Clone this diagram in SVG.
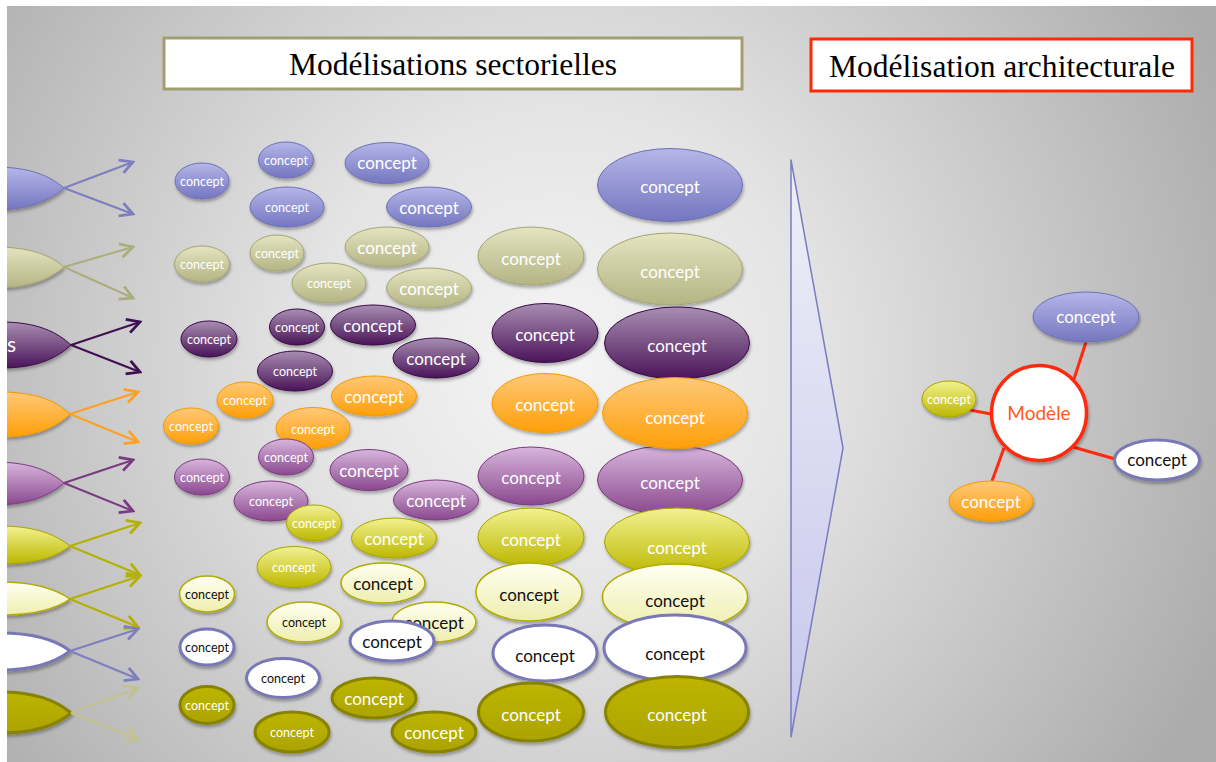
<svg xmlns="http://www.w3.org/2000/svg" width="1216" height="762" viewBox="0 0 1216 762">
<defs>
<radialGradient id="bg" gradientUnits="userSpaceOnUse" cx="560" cy="360" r="720">
<stop offset="0" stop-color="#f5f5f5"/><stop offset="0.35" stop-color="#e4e4e4"/><stop offset="0.7" stop-color="#c6c6c6"/><stop offset="1" stop-color="#acacac"/>
</radialGradient>
<linearGradient id="gBlue" x1="0" y1="0" x2="0" y2="1"><stop offset="0" stop-color="#b5b6e8"/><stop offset="1" stop-color="#7476c0"/></linearGradient>
<linearGradient id="gKhaki" x1="0" y1="0" x2="0" y2="1"><stop offset="0" stop-color="#e4e4c0"/><stop offset="1" stop-color="#b4b484"/></linearGradient>
<linearGradient id="gDp" x1="0" y1="0" x2="0" y2="1"><stop offset="0" stop-color="#a88eb2"/><stop offset="1" stop-color="#4a1458"/></linearGradient>
<linearGradient id="gOr" x1="0" y1="0" x2="0" y2="1"><stop offset="0" stop-color="#ffc878"/><stop offset="1" stop-color="#ff9f08"/></linearGradient>
<linearGradient id="gMv" x1="0" y1="0" x2="0" y2="1"><stop offset="0" stop-color="#d8b6dc"/><stop offset="1" stop-color="#8a488e"/></linearGradient>
<linearGradient id="gYe" x1="0" y1="0" x2="0" y2="1"><stop offset="0" stop-color="#f2f290"/><stop offset="1" stop-color="#bcb700"/></linearGradient>
<linearGradient id="gPa" x1="0" y1="0" x2="0" y2="1"><stop offset="0" stop-color="#fffff2"/><stop offset="1" stop-color="#eeeeae"/></linearGradient>
<linearGradient id="gOl" x1="0" y1="0" x2="0" y2="1"><stop offset="0" stop-color="#bdb500"/><stop offset="1" stop-color="#aca400"/></linearGradient>
<linearGradient id="gArrow" x1="0" y1="0" x2="0" y2="1"><stop offset="0" stop-color="#efeff8"/><stop offset="1" stop-color="#c6c6ec"/></linearGradient>
<filter id="sh" x="-20%" y="-20%" width="140%" height="150%"><feDropShadow dx="1" dy="2.5" stdDeviation="1.5" flood-color="#000" flood-opacity="0.3"/></filter>
<marker id="mBlue" markerUnits="userSpaceOnUse" markerWidth="17" markerHeight="17" viewBox="0 0 16 16" refX="14" refY="8" orient="auto"><path d="M2,1.5 L14,8 L2,14.5" fill="none" stroke="#7d7ec0" stroke-width="2.6"/></marker>
<marker id="mKhaki" markerUnits="userSpaceOnUse" markerWidth="17" markerHeight="17" viewBox="0 0 16 16" refX="14" refY="8" orient="auto"><path d="M2,1.5 L14,8 L2,14.5" fill="none" stroke="#acac7c" stroke-width="2.6"/></marker>
<marker id="mDp" markerUnits="userSpaceOnUse" markerWidth="17" markerHeight="17" viewBox="0 0 16 16" refX="14" refY="8" orient="auto"><path d="M2,1.5 L14,8 L2,14.5" fill="none" stroke="#3f1050" stroke-width="2.6"/></marker>
<marker id="mOr" markerUnits="userSpaceOnUse" markerWidth="17" markerHeight="17" viewBox="0 0 16 16" refX="14" refY="8" orient="auto"><path d="M2,1.5 L14,8 L2,14.5" fill="none" stroke="#ffa020" stroke-width="2.6"/></marker>
<marker id="mMv" markerUnits="userSpaceOnUse" markerWidth="17" markerHeight="17" viewBox="0 0 16 16" refX="14" refY="8" orient="auto"><path d="M2,1.5 L14,8 L2,14.5" fill="none" stroke="#7a3a80" stroke-width="2.6"/></marker>
<marker id="mYe" markerUnits="userSpaceOnUse" markerWidth="17" markerHeight="17" viewBox="0 0 16 16" refX="14" refY="8" orient="auto"><path d="M2,1.5 L14,8 L2,14.5" fill="none" stroke="#b4b000" stroke-width="2.6"/></marker>
<marker id="mFt" markerUnits="userSpaceOnUse" markerWidth="17" markerHeight="17" viewBox="0 0 16 16" refX="14" refY="8" orient="auto"><path d="M2,1.5 L14,8 L2,14.5" fill="none" stroke="#c4c28c" stroke-width="2.6"/></marker>
<style>
text{font-family:Lato,"Open Sans","Noto Sans",sans-serif;text-anchor:middle}
.ts{font-size:12.5px}
.tl{font-size:17px}
.w{fill:#ffffff}
.k{fill:#111111}
.title{font-family:"Liberation Serif","Times New Roman",serif;font-size:31px;fill:#000}
ellipse,.leaf{filter:url(#sh)}
.blue{fill:url(#gBlue);stroke:#6f71b5;stroke-width:1}
.khaki{fill:url(#gKhaki);stroke:#a4a476;stroke-width:1}
.dp{fill:url(#gDp);stroke:#3a0a48;stroke-width:1}
.or{fill:url(#gOr);stroke:#f29a00;stroke-width:1}
.mv{fill:url(#gMv);stroke:#7a3a80;stroke-width:1}
.ye{fill:url(#gYe);stroke:#a8a300;stroke-width:1}
.pa{fill:url(#gPa);stroke:#b0ac00;stroke-width:1.5}
.wh{fill:#ffffff;stroke:#7878b6;stroke-width:3}
.ol{fill:url(#gOl);stroke:#878200;stroke-width:3}
.ln{fill:none;stroke-width:2}
.red{stroke:#ff2a10;stroke-width:3;fill:none}
</style>
</defs>

<rect x="0" y="0" width="1216" height="762" fill="url(#bg)"/>

<!-- titles -->
<g id="title-sectorielles">
<rect x="164" y="38" width="578" height="51" fill="#ffffff" stroke="#a39d72" stroke-width="3"/>
<text class="title" x="453" y="75" textLength="328" lengthAdjust="spacingAndGlyphs">Modélisations sectorielles</text>
</g>
<g id="title-architecturale">
<rect x="811" y="39" width="381" height="52" fill="#ffffff" stroke="#ff2a00" stroke-width="3"/>
<text class="title" x="1002" y="77" textLength="346" lengthAdjust="spacingAndGlyphs">Modélisation architecturale</text>
</g>

<!-- left sources (leaf shapes) -->
<g id="src1"><path class="leaf blue" d="M64,188 C50,176 30,167 -6,167 L-26,167 L-26,210 L-6,210 C30,210 50,200 64,188 Z"/></g>
<g id="src2"><path class="leaf khaki" d="M64,267 C50,255 30,247 -6,247 L-26,247 L-26,288 L-6,288 C30,288 50,279 64,267 Z"/></g>
<g id="src3"><path class="leaf dp" d="M71,345 C57,332 37,322 1,322 L-19,322 L-19,368 L1,368 C37,368 57,358 71,345 Z"/><text class="w" x="16" y="352" style="font-size:21px;text-anchor:end">s</text></g>
<g id="src4"><path class="leaf or" d="M70,414 C56,401 36,392 0,392 L-20,392 L-20,437 L0,437 C36,437 56,427 70,414 Z"/></g>
<g id="src5"><path class="leaf mv" d="M64,483 C50,471 30,462 -6,462 L-26,462 L-26,505 L-6,505 C30,505 50,495 64,483 Z"/></g>
<g id="src6"><path class="leaf ye" d="M70,546 C56,535 36,526 0,526 L-20,526 L-20,564 L0,564 C36,564 56,557 70,546 Z"/></g>
<g id="src7"><path class="leaf pa" d="M70,599 C56,589 36,582 0,582 L-20,582 L-20,615 L0,615 C36,615 56,609 70,599 Z"/></g>
<g id="src8"><path class="leaf wh" d="M70,651 C56,640 36,633 0,633 L-20,633 L-20,670 L0,670 C36,670 56,662 70,651 Z"/></g>
<g id="src9"><path class="leaf ol" d="M71,713 C57,701 37,692 1,692 L-19,692 L-19,733 L1,733 C37,733 57,725 71,713 Z"/></g>

<!-- connectors -->
<g id="connectors">
<g class="ln" stroke="#7d7ec0"><line x1="64" y1="188" x2="133" y2="162" marker-end="url(#mBlue)"/><line x1="64" y1="188" x2="133" y2="214" marker-end="url(#mBlue)"/></g>
<g class="ln" stroke="#acac7c"><line x1="64" y1="267" x2="133" y2="247" marker-end="url(#mKhaki)"/><line x1="64" y1="267" x2="133" y2="298" marker-end="url(#mKhaki)"/></g>
<g class="ln" stroke="#3f1050"><line x1="71" y1="345" x2="140" y2="322" marker-end="url(#mDp)"/><line x1="71" y1="345" x2="140" y2="372" marker-end="url(#mDp)"/></g>
<g class="ln" stroke="#ffa020"><line x1="70" y1="414" x2="138" y2="392" marker-end="url(#mOr)"/><line x1="70" y1="414" x2="138" y2="442" marker-end="url(#mOr)"/></g>
<g class="ln" stroke="#7a3a80"><line x1="64" y1="483" x2="133" y2="460" marker-end="url(#mMv)"/><line x1="64" y1="483" x2="133" y2="511" marker-end="url(#mMv)"/></g>
<g class="ln" stroke="#b4b000"><line x1="70" y1="546" x2="140" y2="523" marker-end="url(#mYe)"/><line x1="70" y1="546" x2="140" y2="575" marker-end="url(#mYe)"/></g>
<g class="ln" stroke="#b4b000"><line x1="70" y1="599" x2="140" y2="576" marker-end="url(#mYe)"/><line x1="70" y1="599" x2="138" y2="627" marker-end="url(#mYe)"/></g>
<g class="ln" stroke="#7d7ec0"><line x1="70" y1="651" x2="138" y2="629" marker-end="url(#mBlue)"/><line x1="70" y1="651" x2="138" y2="679" marker-end="url(#mBlue)"/></g>
<g class="ln" stroke="#c4c28c"><line x1="71" y1="713" x2="138" y2="688" marker-end="url(#mFt)"/><line x1="71" y1="713" x2="138" y2="739" marker-end="url(#mFt)"/></g>
<g id="model-links" class="red">
<line x1="1073" y1="382" x2="1086" y2="342"/>
<line x1="991" y1="414" x2="970" y2="410"/>
<line x1="1073" y1="447" x2="1115" y2="459"/>
<line x1="1004" y1="448" x2="992" y2="481"/>
</g>
</g>

<!-- blue row -->
<g id="b1"><ellipse class="blue" cx="202" cy="181" rx="27" ry="18"/><text class="ts w" x="202" y="186">concept</text></g>
<g id="b2"><ellipse class="blue" cx="286" cy="160" rx="27.5" ry="18"/><text class="ts w" x="286" y="165">concept</text></g>
<g id="b3"><ellipse class="blue" cx="387" cy="163" rx="42" ry="20.5"/><text class="tl w" x="387" y="169">concept</text></g>
<g id="b4"><ellipse class="blue" cx="287" cy="207" rx="37" ry="20"/><text class="ts w" x="287" y="212">concept</text></g>
<g id="b5"><ellipse class="blue" cx="429" cy="207" rx="42.5" ry="20"/><text class="tl w" x="429" y="214">concept</text></g>
<g id="b6"><ellipse class="blue" cx="670" cy="185" rx="72.5" ry="36.5"/><text class="tl w" x="670" y="193">concept</text></g>

<!-- khaki row -->
<g id="k1"><ellipse class="khaki" cx="202" cy="264" rx="27.5" ry="18"/><text class="ts w" x="202" y="269">concept</text></g>
<g id="k2"><ellipse class="khaki" cx="277" cy="253" rx="27" ry="18"/><text class="ts w" x="277" y="258">concept</text></g>
<g id="k3"><ellipse class="khaki" cx="387" cy="247" rx="42" ry="20"/><text class="tl w" x="387" y="254">concept</text></g>
<g id="k4"><ellipse class="khaki" cx="329" cy="283" rx="37" ry="20"/><text class="ts w" x="329" y="288">concept</text></g>
<g id="k5"><ellipse class="khaki" cx="429" cy="288" rx="42.5" ry="20"/><text class="tl w" x="429" y="295">concept</text></g>
<g id="k6"><ellipse class="khaki" cx="531" cy="256" rx="53" ry="29"/><text class="tl w" x="531" y="265">concept</text></g>
<g id="k7"><ellipse class="khaki" cx="670" cy="269" rx="72.5" ry="36"/><text class="tl w" x="670" y="278">concept</text></g>

<!-- dark purple row -->
<g id="d1"><ellipse class="dp" cx="209" cy="339" rx="28" ry="18"/><text class="ts w" x="209" y="344">concept</text></g>
<g id="d2"><ellipse class="dp" cx="297" cy="327" rx="27.5" ry="18"/><text class="ts w" x="297" y="332">concept</text></g>
<g id="d3"><ellipse class="dp" cx="373" cy="325" rx="42.5" ry="20"/><text class="tl w" x="373" y="332">concept</text></g>
<g id="d4"><ellipse class="dp" cx="295" cy="371" rx="37.5" ry="20"/><text class="ts w" x="295" y="376">concept</text></g>
<g id="d5"><ellipse class="dp" cx="436" cy="358" rx="43" ry="20"/><text class="tl w" x="436" y="365">concept</text></g>
<g id="d6"><ellipse class="dp" cx="545" cy="333" rx="53" ry="29.5"/><text class="tl w" x="545" y="341">concept</text></g>
<g id="d7"><ellipse class="dp" cx="677" cy="343" rx="72.5" ry="36"/><text class="tl w" x="677" y="352">concept</text></g>

<!-- orange row -->
<g id="o1"><ellipse class="or" cx="245" cy="400" rx="28" ry="18"/><text class="ts w" x="245" y="405">concept</text></g>
<g id="o2"><ellipse class="or" cx="374" cy="396" rx="42.5" ry="20"/><text class="tl w" x="374" y="403">concept</text></g>
<g id="o3"><ellipse class="or" cx="191" cy="426" rx="27.5" ry="18"/><text class="ts w" x="191" y="431">concept</text></g>
<g id="o4"><ellipse class="or" cx="313" cy="428" rx="37" ry="20.5"/><text class="ts w" x="313" y="434">concept</text></g>
<g id="o5"><ellipse class="or" cx="545" cy="403" rx="53" ry="29.5"/><text class="tl w" x="545" y="411">concept</text></g>

<!-- mauve row -->
<g id="m1"><ellipse class="mv" cx="286" cy="457" rx="27.5" ry="18"/><text class="ts w" x="286" y="462">concept</text></g>
<g id="m2"><ellipse class="mv" cx="369" cy="470" rx="39" ry="20.5"/><text class="tl w" x="369" y="477">concept</text></g>
<g id="m3"><ellipse class="mv" cx="202" cy="477" rx="27.5" ry="18"/><text class="ts w" x="202" y="482">concept</text></g>
<g id="m4"><ellipse class="mv" cx="271" cy="501" rx="37" ry="20"/><text class="ts w" x="271" y="506">concept</text></g>
<g id="m5"><ellipse class="mv" cx="436" cy="500" rx="42.5" ry="20"/><text class="tl w" x="436" y="507">concept</text></g>
<g id="m6"><ellipse class="mv" cx="531" cy="476" rx="53" ry="29"/><text class="tl w" x="531" y="484">concept</text></g>
<g id="m7"><ellipse class="mv" cx="670" cy="480" rx="72.5" ry="34.5"/><text class="tl w" x="670" y="489">concept</text></g>
<g id="o6"><ellipse class="or" cx="675" cy="413" rx="72.5" ry="35.5"/><text class="tl w" x="675" y="424">concept</text></g>

<!-- yellow row -->
<g id="y1"><ellipse class="ye" cx="314" cy="523" rx="27.5" ry="18"/><text class="ts w" x="314" y="528">concept</text></g>
<g id="y2"><ellipse class="ye" cx="394" cy="538" rx="42.5" ry="20"/><text class="tl w" x="394" y="545">concept</text></g>
<g id="y3"><ellipse class="ye" cx="294" cy="567" rx="37" ry="20.5"/><text class="ts w" x="294" y="572">concept</text></g>
<g id="y4"><ellipse class="ye" cx="531" cy="537" rx="53" ry="29"/><text class="tl w" x="531" y="546">concept</text></g>
<g id="y5"><ellipse class="ye" cx="677" cy="542" rx="72.5" ry="34"/><text class="tl w" x="677" y="554">concept</text></g>

<!-- pale yellow row -->
<g id="p1"><ellipse class="pa" cx="207" cy="594" rx="27.5" ry="18"/><text class="ts k" x="207" y="599">concept</text></g>
<g id="p2"><ellipse class="pa" cx="383" cy="583" rx="42" ry="20"/><text class="tl k" x="383" y="590">concept</text></g>
<g id="p3"><ellipse class="pa" cx="304" cy="622" rx="37" ry="20"/><text class="ts k" x="304" y="627">concept</text></g>
<g id="p4"><ellipse class="pa" cx="434" cy="622" rx="42" ry="20"/><text class="tl k" x="434" y="629">concept</text></g>
<g id="p5"><ellipse class="pa" cx="529" cy="592" rx="53" ry="29"/><text class="tl k" x="529" y="601">concept</text></g>
<g id="p6"><ellipse class="pa" cx="675" cy="597" rx="72.5" ry="33"/><text class="tl k" x="675" y="607">concept</text></g>

<!-- white row -->
<g id="w1"><ellipse class="wh" cx="207" cy="647" rx="27" ry="18"/><text class="ts k" x="207" y="652">concept</text></g>
<g id="w2"><ellipse class="wh" cx="392" cy="641" rx="42" ry="20"/><text class="tl k" x="392" y="648">concept</text></g>
<g id="w3"><ellipse class="wh" cx="283" cy="678" rx="36.5" ry="19.5"/><text class="ts k" x="283" y="683">concept</text></g>
<g id="w4"><ellipse class="wh" cx="545" cy="653" rx="52" ry="28"/><text class="tl k" x="545" y="662">concept</text></g>
<g id="w5"><ellipse class="wh" cx="675" cy="648" rx="71" ry="33"/><text class="tl k" x="675" y="660">concept</text></g>

<!-- dark olive row -->
<g id="l1"><ellipse class="ol" cx="207" cy="705" rx="27" ry="18.5"/><text class="ts w" x="207" y="710">concept</text></g>
<g id="l2"><ellipse class="ol" cx="374" cy="698" rx="42" ry="20"/><text class="tl w" x="374" y="705">concept</text></g>
<g id="l3"><ellipse class="ol" cx="292" cy="732" rx="37" ry="20"/><text class="ts w" x="292" y="737">concept</text></g>
<g id="l4"><ellipse class="ol" cx="434" cy="732" rx="42" ry="20"/><text class="tl w" x="434" y="739">concept</text></g>
<g id="l5"><ellipse class="ol" cx="531" cy="712" rx="52.5" ry="29"/><text class="tl w" x="531" y="721">concept</text></g>
<g id="l6"><ellipse class="ol" cx="677" cy="712" rx="71.5" ry="35.5"/><text class="tl w" x="677" y="721">concept</text></g>

<!-- big arrow -->
<g id="big-arrow"><polygon points="791,160 843,448 791,737" fill="url(#gArrow)" stroke="#7a7cc0" stroke-width="1.5" stroke-linejoin="round"/></g>

<!-- architectural model -->
<g id="a-blue"><ellipse class="blue" cx="1086" cy="317" rx="53" ry="25"/><text class="tl w" x="1086" y="323">concept</text></g>
<g id="a-yellow"><ellipse class="ye" cx="949" cy="399" rx="27" ry="18"/><text class="ts w" x="949" y="404">concept</text></g>
<g id="a-white"><ellipse class="wh" cx="1157" cy="460" rx="42.5" ry="20"/><text class="tl k" x="1157" y="466">concept</text></g>
<g id="a-orange"><ellipse class="or" cx="991" cy="501" rx="42" ry="20"/><text class="tl w" x="991" y="508">concept</text></g>
<g id="modele"><circle cx="1039" cy="413" r="47.5" fill="#ffffff" stroke="#ff2a10" stroke-width="3.5" filter="url(#sh)"/><text x="1039" y="420" style="font-size:19px;fill:#ff5a1c">Modèle</text></g>

<!-- white frame edges -->
<rect x="0" y="0" width="7" height="762" fill="#ffffff"/>
<rect x="0" y="0" width="1216" height="6" fill="#ffffff"/>
</svg>
